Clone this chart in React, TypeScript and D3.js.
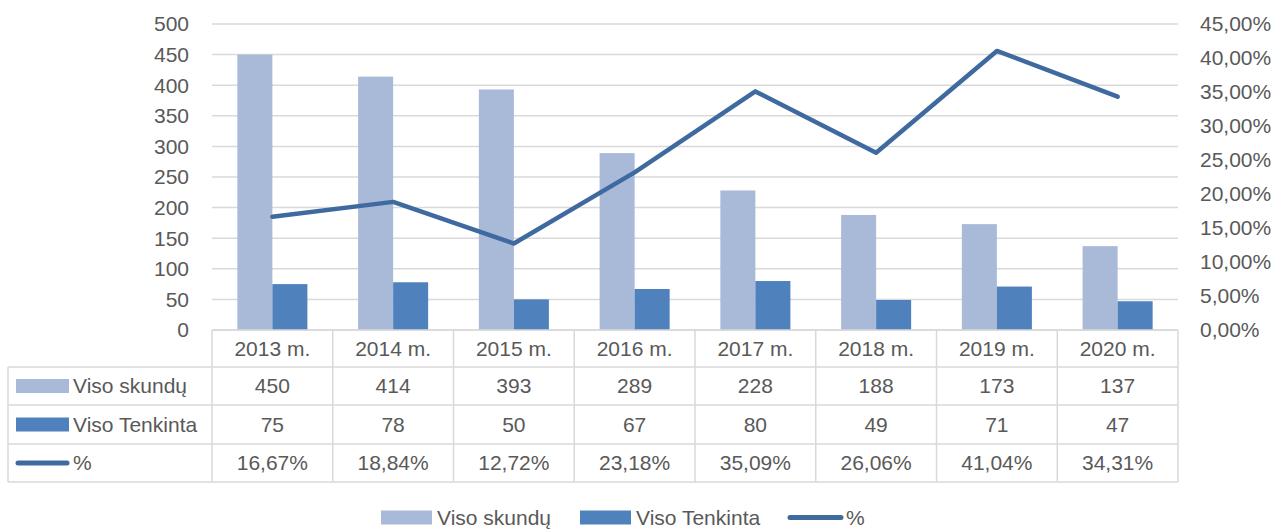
import React from "react";
import * as d3 from "d3";

const years = ["2013 m.", "2014 m.", "2015 m.", "2016 m.", "2017 m.", "2018 m.", "2019 m.", "2020 m."];
const visoSkundu = [450, 414, 393, 289, 228, 188, 173, 137];
const visoTenkinta = [75, 78, 50, 67, 80, 49, 71, 47];
const percent = [0.1667, 0.1884, 0.1272, 0.2318, 0.3509, 0.2606, 0.4104, 0.3431];
const leftTicks = [0, 50, 100, 150, 200, 250, 300, 350, 400, 450, 500];
const rightTicks = [0, 0.05, 0.1, 0.15, 0.2, 0.25, 0.3, 0.35, 0.4, 0.45];

const LIGHT = "#a9b9d8";
const DARK = "#4f81bd";
const LINE = "#3f6aa0";
const GRID = "#d9d9d9";
const TEXT = "#595959";
const FONT = "'Liberation Sans', Arial, sans-serif";

const locale = d3.formatLocale({ decimal: ",", thousands: " ", grouping: [3], currency: ["", ""] });
const fmtPct = locale.format(".2%");

export default function App() {
  const width = 1276;
  const height = 529;
  const left = 212;
  const right = 1178;
  const top = 24;
  const bottom = 330;
  const rows = [330, 367, 405, 444, 482];
  const tableLeft = 8;

  const x = d3.scaleBand<string>().domain(years).range([left, right]).paddingInner(0).paddingOuter(0);
  const inner = d3.scaleBand<string>().domain(years).range([left, right]).paddingInner(0.42).paddingOuter(0.21);
  const sub = d3.scaleBand<string>().domain(["a", "b"]).range([0, inner.bandwidth()]);
  const yL = d3.scaleLinear().domain([0, 500]).range([bottom, top]);
  const yR = d3.scaleLinear().domain([0, 0.45]).range([bottom, top]);

  const line = d3
    .line<number>()
    .x((_, i) => x(years[i])! + x.bandwidth() / 2)
    .y((d) => yR(d));

  const rowData: { label: string; values: string[]; kind: string }[] = [
    { label: "Viso skundų", values: visoSkundu.map(String), kind: "light" },
    { label: "Viso Tenkinta", values: visoTenkinta.map(String), kind: "dark" },
    { label: "%", values: percent.map(fmtPct), kind: "line" },
  ];

  const swatch = (kind: string, sx: number, cy: number, w: number) =>
    kind === "line" ? (
      <line x1={sx + 2} x2={sx + w - 2} y1={cy} y2={cy} stroke={LINE} strokeWidth={5} strokeLinecap="round" />
    ) : (
      <rect x={sx} y={cy - 7} width={w} height={14} fill={kind === "light" ? LIGHT : DARK} />
    );

  return (
    <svg
      width={width}
      height={height}
      style={{ position: "absolute", left: 0, top: 0, background: "#fff" }}
      fontFamily={FONT}
      fontSize={21}
      fill={TEXT}
    >
      {/* gridlines */}
      {leftTicks.map((t) => (
        <line key={"g" + t} x1={left} x2={right} y1={yL(t)} y2={yL(t)} stroke={GRID} strokeWidth={1.5} />
      ))}

      {/* left axis labels */}
      {leftTicks.map((t) => (
        <text key={"l" + t} x={189} y={yL(t)} dy="0.35em" textAnchor="end">
          {t}
        </text>
      ))}

      {/* right axis labels */}
      {rightTicks.map((t) => (
        <text key={"r" + t} x={1200} y={yR(t)} dy="0.35em" textAnchor="start">
          {fmtPct(t)}
        </text>
      ))}

      {/* bars */}
      {years.map((yr, i) => (
        <g key={"b" + yr} transform={`translate(${inner(yr)},0)`}>
          <rect x={sub("a")} y={yL(visoSkundu[i])} width={sub.bandwidth()} height={bottom - yL(visoSkundu[i])} fill={LIGHT} />
          <rect x={sub("b")} y={yL(visoTenkinta[i])} width={sub.bandwidth()} height={bottom - yL(visoTenkinta[i])} fill={DARK} />
        </g>
      ))}

      {/* percentage line */}
      <path d={line(percent) ?? ""} fill="none" stroke={LINE} strokeWidth={4.5} strokeLinejoin="round" strokeLinecap="round" />

      {/* data table */}
      <g stroke={GRID} strokeWidth={1.5}>
        <line x1={left} x2={right} y1={rows[0]} y2={rows[0]} />
        {rows.slice(1).map((ry) => (
          <line key={"h" + ry} x1={tableLeft} x2={right} y1={ry} y2={ry} />
        ))}
        <line x1={tableLeft} x2={tableLeft} y1={rows[1]} y2={rows[4]} />
        {years.map((yr) => (
          <line key={"v" + yr} x1={x(yr)} x2={x(yr)} y1={rows[0]} y2={rows[4]} />
        ))}
        <line x1={right} x2={right} y1={rows[0]} y2={rows[4]} />
      </g>

      {years.map((yr) => (
        <text key={"t" + yr} x={x(yr)! + x.bandwidth() / 2} y={(rows[0] + rows[1]) / 2} dy="0.35em" textAnchor="middle">
          {yr}
        </text>
      ))}

      {rowData.map((r, ri) => {
        const cy = (rows[ri + 1] + rows[ri + 2]) / 2;
        return (
          <g key={"row" + ri}>
            {swatch(r.kind, 16, cy, 53)}
            <text x={73} y={cy} dy="0.35em">
              {r.label}
            </text>
            {r.values.map((v, i) => (
              <text key={i} x={x(years[i])! + x.bandwidth() / 2} y={cy} dy="0.35em" textAnchor="middle">
                {v}
              </text>
            ))}
          </g>
        );
      })}

      {/* legend */}
      {[
        { label: "Viso skundų", kind: "light", sx: 381 },
        { label: "Viso Tenkinta", kind: "dark", sx: 580 },
        { label: "%", kind: "line", sx: 788 },
      ].map((l) => (
        <g key={"lg" + l.label}>
          {swatch(l.kind, l.sx, 517.5, l.kind === "line" ? 55 : 51)}
          <text x={l.sx + (l.kind === "line" ? 58 : 56)} y={517.5} dy="0.35em">
            {l.label}
          </text>
        </g>
      ))}
    </svg>
  );
}
